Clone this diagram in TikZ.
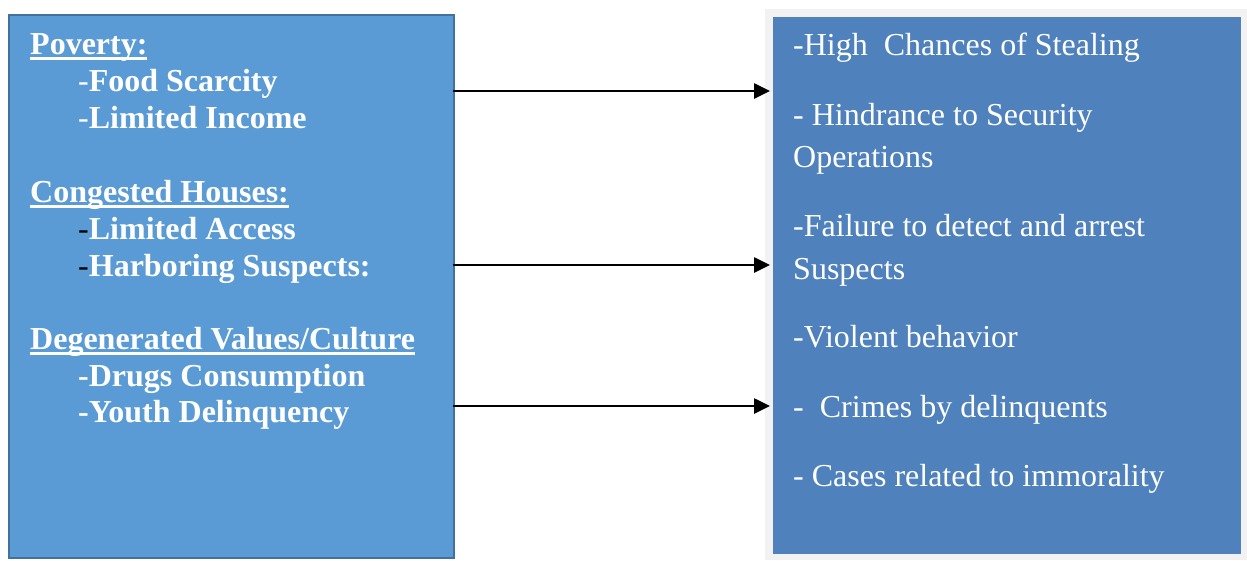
\documentclass[tikz,border=0pt]{standalone}
\usepackage{fontspec}
\setmainfont{Liberation Serif}
\usetikzlibrary{arrows.meta}
\definecolor{lbox}{HTML}{5B9BD5}
\definecolor{lborder}{HTML}{41719C}
\definecolor{rbox}{HTML}{4F81BD}
\definecolor{rframe}{HTML}{F2F2F2}
\newcommand\myul[1]{\setbox0\hbox{#1}\rlap{\rule[-5.5pt]{\wd0}{2.2pt}}\box0}
\tikzset{
  lt/.style={anchor=base west, inner sep=0pt, text=white, font=\fontsize{32}{37}\selectfont\bfseries},
  rt/.style={anchor=base west, inner sep=0pt, text=white, font=\fontsize{32}{42}\selectfont},
  arr/.style={line width=2.6pt, -{Triangle[length=16pt,width=15pt]}},
}
\begin{document}
\begin{tikzpicture}[x=1pt,y=-1pt]
\useasboundingbox (0,0) rectangle (1247,560);
\fill[white] (0,0) rectangle (1247,560);
% left box
\node[draw=lborder, fill=lbox, line width=2.4pt, minimum width=445pt, minimum height=543pt, inner sep=0pt, anchor=north west] (L) at (8,14) {};
% right box
\node[fill=rframe, minimum width=482pt, minimum height=551pt, inner sep=0pt, anchor=north west] (RF) at (765,9) {};
\node[fill=rbox, minimum width=468pt, minimum height=537pt, inner sep=0pt, anchor=north west] (R) at (773,17) {};
% left texts
\node[lt] (l1) at (30,54) {\myul{Poverty:}};
\node[lt] (l2) at (78,91) {\mdseries-\bfseries Food Scarcity};
\node[lt] (l3) at (78,128) {\mdseries-\bfseries Limited Income};
\node[lt] (l4) at (30,202) {\myul{Congested Houses:}};
\node[lt] (l5) at (78,239) {\mdseries\textcolor{black}{-}\bfseries Limited Access};
\node[lt] (l6) at (78,276) {\mdseries\textcolor{black}{-}\bfseries Harboring Suspects:};
\node[lt] (l7) at (30,349) {\myul{Degenerated Values/Culture}};
\node[lt] (l8) at (78,386) {-Drugs Consumption};
\node[lt] (l9) at (78,422) {-Youth Delinquency};
% right texts
\node[rt] (r1) at (793,55) {-High\ \ Chances of Stealing};
\node[rt] (r2) at (793,125) {- Hindrance to Security};
\node[rt] (r3) at (793,167) {Operations};
\node[rt] (r4) at (793,236) {-Failure to detect and arrest};
\node[rt] (r5) at (793,279) {Suspects};
\node[rt] (r6) at (793,347) {-Violent behavior};
\node[rt] (r7) at (793,417) {-\ \ Crimes by delinquents};
\node[rt] (r8) at (793,486) {- Cases related to immorality};
% arrows
\coordinate (a1) at (453,91);
\coordinate (b1) at (770,91);
\coordinate (a2) at (453,265);
\coordinate (b2) at (770,265);
\coordinate (a3) at (453,406);
\coordinate (b3) at (770,406);
\draw[arr] (a1) -- (b1);
\draw[arr] (a2) -- (b2);
\draw[arr] (a3) -- (b3);
\end{tikzpicture}
\end{document}
